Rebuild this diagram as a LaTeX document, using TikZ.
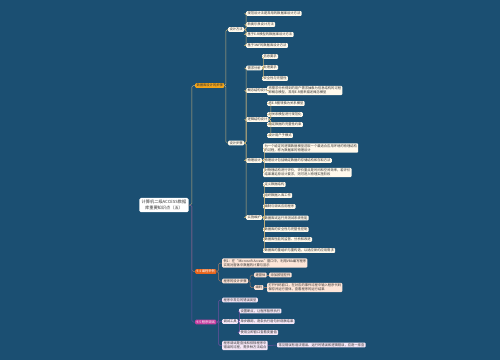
\documentclass[tikz,border=0pt]{standalone}
\usepackage{fontspec}
\newfontfamily\cjk{Noto Sans CJK SC}
\usetikzlibrary{positioning}

\definecolor{bgblue}{HTML}{1B4F72}
\definecolor{txtgray}{HTML}{333333}
\definecolor{goldfill}{HTML}{F2A51A}
\definecolor{goldline}{HTML}{C8B27A}
\definecolor{orfill}{HTML}{E8641B}
\definecolor{orline}{HTML}{9C7B6B}
\definecolor{purfill}{HTML}{C63FA0}
\definecolor{purline}{HTML}{6E4FA0}
\definecolor{leafgold}{HTML}{FFF9EC}
\definecolor{leafor}{HTML}{FDE5D8}
\definecolor{leafpur}{HTML}{F4E6F6}

\tikzset{
  base/.style={font=\cjk\fontsize{3.3}{4.2}\selectfont, inner xsep=1.3pt, inner ysep=0.9pt,
    rounded corners=1pt, anchor=west, text=txtgray, align=left},
  goldleaf/.style={base, fill=leafgold},
  orleaf/.style={base, fill=leafor},
  purleaf/.style={base, fill=leafpur},
  gline/.style={draw=goldline, line width=0.5pt, rounded corners=1.5pt},
  oline/.style={draw=orline, line width=0.5pt, rounded corners=1.5pt},
  pline/.style={draw=purline, line width=0.5pt, rounded corners=1.5pt}
}

\begin{document}
\begin{tikzpicture}[x=1pt, y=-1pt]
\fill[bgblue] (0,0) rectangle (500,360);
\useasboundingbox (0,0) rectangle (500,360);

% Central topic
\node[fill=white, rounded corners=1.5pt, inner sep=2.4pt, align=center, text=txtgray,
  font=\cjk\fontsize{4.2}{5.4}\selectfont] (root) at (164,205) {计算机二级ACCESS数据\\库重要知识点（五）};

% Main branches
\node[base, fill=goldfill] (steps) at (195,85.5) {数据库设计的步骤};
\node[base, fill=orfill, text=white] (prog) at (195,271.5) {9.4 编程举例};
\node[base, fill=purfill, text=white] (debug) at (195,322) {9.5 程序调试};
\draw[gline] (root.east) -- ++(3,0) |- (steps.west);
\draw[oline] (root.east) -- ++(3,0) |- (prog.west);
\draw[pline] (root.east) -- ++(3,0) |- (debug.west);

% Design methods
\node[goldleaf] (method) at (228,29.5) {设计方法};
\node[goldleaf] (stage) at (228,143) {设计步骤};
\draw[gline] (steps.east) -- ++(1.5,0) |- (method.west);
\draw[gline] (steps.east) -- ++(1.5,0) |- (stage.west);

\node[goldleaf] (m1) at (246,13.5) {规范设计法是常用的数据库设计方法};
\node[goldleaf] (m2) at (246,24.5) {新奥尔良设计方法};
\node[goldleaf] (m3) at (246,34.5) {基于E-R模型的数据库设计方法};
\node[goldleaf] (m4) at (246,45.5) {基于3NF的数据库设计方法};
\draw[gline] (method.east) -- ++(2,0) |- (m1.west);
\draw[gline] (method.east) -- ++(2,0) |- (m2.west);
\draw[gline] (method.east) -- ++(2,0) |- (m3.west);
\draw[gline] (method.east) -- ++(2,0) |- (m4.west);

% Design stages
\node[goldleaf] (need) at (246,68) {需求分析};
\node[goldleaf] (concept) at (246,90.5) {概念结构设计};
\node[goldleaf] (logic) at (246,119.5) {逻辑结构设计};
\node[goldleaf] (phys) at (246,160.5) {物理设计};
\node[goldleaf] (impl) at (246,217.5) {实施维护};
\draw[gline] (stage.east) -- ++(2,0) |- (need.west);
\draw[gline] (stage.east) -- ++(2,0) |- (concept.west);
\draw[gline] (stage.east) -- ++(2,0) |- (logic.west);
\draw[gline] (stage.east) -- ++(2,0) |- (phys.west);
\draw[gline] (stage.east) -- ++(2,0) |- (impl.west);

\node[goldleaf] (need1) at (262,56.5) {信息要求};
\node[goldleaf] (need2) at (262,67.5) {处理要求};
\node[goldleaf] (need3) at (262,78.5) {安全性与完整性};
\draw[gline] (need.east) -- ++(1.5,0) |- (need1.west);
\draw[gline] (need.east) -- ++(1.5,0) |- (need2.west);
\draw[gline] (need.east) -- ++(1.5,0) |- (need3.west);

\node[goldleaf] (concept1) at (267,90.5) {将需求分析得到的用户需求抽象为信息结构的过程\\即概念模型，常用E-R图来描述概念模型};
\draw[gline] (concept.east) -- (concept1.west);

\node[goldleaf] (logic1) at (267,103.5) {将E-R图转换为关系模型};
\node[goldleaf] (logic2) at (267,114.5) {对关系模型进行规范化};
\node[goldleaf] (logic3) at (267,124.5) {确定数据的完整性约束};
\node[goldleaf] (logic4) at (267,135.5) {设计用户子模式};
\draw[gline] (logic.east) -- ++(2,0) |- (logic1.west);
\draw[gline] (logic.east) -- ++(2,0) |- (logic2.west);
\draw[gline] (logic.east) -- ++(2,0) |- (logic3.west);
\draw[gline] (logic.east) -- ++(2,0) |- (logic4.west);

\node[goldleaf] (phys1) at (263,148) {为一个给定的逻辑数据模型选取一个最适合应用环境的物理结构\\的过程，称为数据库的物理设计};
\node[goldleaf] (phys2) at (263,160.5) {物理设计包括确定数据的存储结构和存取方法};
\node[goldleaf] (phys3) at (263,172.5) {对物理结构进行评价，评价重点是时间和空间效率，若评价\\结果满足原设计要求，则可进入物理实施阶段};
\draw[gline] (phys.east) -- ++(2.5,0) |- (phys1.west);
\draw[gline] (phys.east) -- ++(2.5,0) |- (phys2.west);
\draw[gline] (phys.east) -- ++(2.5,0) |- (phys3.west);

\node[goldleaf] (impl1) at (263,184.5) {定义数据结构};
\node[goldleaf] (impl2) at (263,195.5) {组织数据入库工作};
\node[goldleaf] (impl3) at (263,206.5) {编制与调试应用程序};
\node[goldleaf] (impl4) at (263,218) {数据库试运行并测试系统性能};
\node[goldleaf] (impl5) at (263,229.5) {数据库的安全性与完整性控制};
\node[goldleaf] (impl6) at (263,239.5) {数据库性能的监督、分析和改进};
\node[goldleaf] (impl7) at (263,250.5) {数据库的重组织与重构造，以适应新的应用需求};
\draw[gline] (impl.east) -- ++(2.5,0) |- (impl1.west);
\draw[gline] (impl.east) -- ++(2.5,0) |- (impl2.west);
\draw[gline] (impl.east) -- ++(2.5,0) |- (impl3.west);
\draw[gline] (impl.east) -- ++(2.5,0) |- (impl4.west);
\draw[gline] (impl.east) -- ++(2.5,0) |- (impl5.west);
\draw[gline] (impl.east) -- ++(2.5,0) |- (impl6.west);
\draw[gline] (impl.east) -- ++(2.5,0) |- (impl7.west);

% Programming example
\node[orleaf] (ex1) at (222,263) {例1：在“Microsoft Access”窗口中，利用VBA编写程序\\实现对窗体中数据的计算与显示};
\node[orleaf] (flow) at (222,281) {程序的设计步骤};
\draw[oline] (prog.east) -- ++(2,0) |- (ex1.west);
\draw[oline] (prog.east) -- ++(2,0) |- (flow.west);

\node[orleaf] (flowa) at (254,275) {建窗体};
\node[orleaf] (flowb) at (254,287.5) {编码};
\draw[oline] (flow.east) -- ++(2,0) |- (flowa.west);
\draw[oline] (flow.east) -- ++(2,0) |- (flowb.west);
\node[orleaf] (flowa1) at (269,275) {添加按钮控件};
\node[orleaf] (flowb1) at (267,287.5) {打开代码窗口，在对应的事件过程中输入程序代码\\保存并运行窗体，查看程序的运行结果};
\draw[oline] (flowa.east) -- (flowa1.west);
\draw[oline] (flowb.east) -- (flowb1.west);

% Debugging
\node[purleaf] (err) at (222,300) {程序中常见的错误类型};
\node[purleaf] (tool) at (222,321.5) {调试工具};
\node[purleaf] (note) at (222,345.5) {程序调试是查找和排除程序中\\错误的过程，需多种方法结合};
\draw[pline] (debug.east) -- ++(2,0) |- (err.west);
\draw[pline] (debug.east) -- ++(2,0) |- (tool.west);
\draw[pline] (debug.east) -- ++(2,0) |- (note.west);

\node[purleaf] (tool1) at (239,311) {设置断点，让程序暂停执行};
\node[purleaf] (tool2) at (239,321.5) {单步跟踪，逐条执行语句并观察结果};
\node[purleaf] (tool3) at (239,332.5) {使用立即窗口查看变量值};
\draw[pline] (tool.east) -- ++(1.5,0) |- (tool1.west);
\draw[pline] (tool.east) -- ++(1.5,0) |- (tool2.west);
\draw[pline] (tool.east) -- ++(1.5,0) |- (tool3.west);

\node[purleaf] (note1) at (277,345) {常见错误有语法错误、运行时错误和逻辑错误，应逐一排查};
\draw[pline] (note.east) -- (note1.west);
\end{tikzpicture}
\end{document}
